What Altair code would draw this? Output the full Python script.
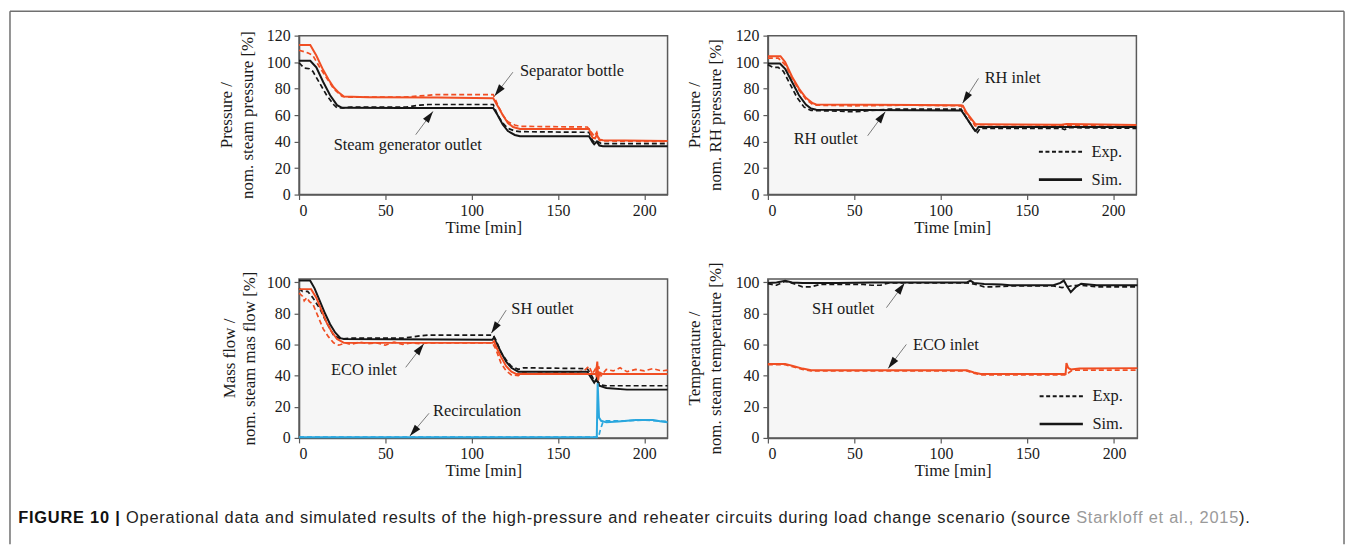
import math
import altair as alt
import pandas as pd

RED = "#f04e23"
BLACK = "#161616"
BLUE = "#2aa7de"
ARROW_GRAY = "#7a7a7a"
SERIF = "Liberation Serif"
SANS = "Liberation Sans"

XMAX = 213.5
H = 160
W_TOP = 371
W_BOT_L = 371
W_BOT_R = 372

X_TICKS = [0, 50, 100, 150, 200]
Y_TICKS_TOP = [0, 20, 40, 60, 80, 100, 120]
Y_TICKS_BOT = [0, 20, 40, 60, 80, 100]

# ---------------- Panel 1: steam pressure ----------------
P1_SEP_SIM = [(0, 113), (6.5, 113), (10, 105), (14, 94), (17, 87), (20, 81), (23, 77), (26, 74),
              (40, 73.5), (80, 73.2), (112.5, 72.8), (115, 67), (118, 60), (121, 54), (124, 51),
              (128, 49.5), (168, 49.5), (170, 43), (171.5, 42.5), (172.5, 45), (174, 41.5),
              (176, 41), (213.5, 40.5)]
P1_SEP_EXP = [(0, 109), (5, 107), (8, 105), (12, 96), (16, 88), (20, 80), (25, 74), (30, 73.5),
              (60, 73.5), (70, 74.5), (80, 75.5), (112.5, 75.5), (115, 68), (118, 60), (121, 55),
              (125, 52.5), (128, 51.5), (167, 51), (170, 46), (171, 44), (172.5, 47), (174, 41),
              (176, 40.5), (213.5, 40)]
P1_SGO_SIM = [(0, 101), (6.5, 101), (10, 96), (14, 85), (18, 75), (22, 67.5), (25, 65.5),
              (60, 65.3), (112.5, 65.3), (115, 60), (118, 53), (121, 48), (125, 45), (128, 44),
              (168, 44), (170, 39.5), (171, 38), (172.5, 40), (174, 37), (176, 36.5), (213.5, 36.5)]
P1_SGO_EXP = [(0, 99.5), (3, 95.5), (6, 95), (8, 93), (12, 84), (16, 75), (20, 68), (22, 65.5),
              (26, 65.5), (30, 66), (62, 66), (70, 67.5), (75, 68), (112.5, 68), (115, 60),
              (118, 54), (121, 50), (125, 48), (128, 47.5), (168, 47), (170, 41), (171.5, 39),
              (173, 40), (175, 38.5), (213.5, 38.5)]
P1_TEXT = [("Separator bottle", 128, 93, "left"), ("Steam generator outlet", 63, 37.5, "center")]
P1_ARROWS = [(123.9, 92.4, 113.3, 74.5), (67.6, 45.2, 77.6, 62.8)]
P1_YTITLE = ["Pressure /", "nom. steam pressure [%]"]

# ---------------- Panel 2: RH pressure ----------------
P2_RHI_SIM = [(0, 104.5), (7.3, 104.5), (10, 100), (14, 89), (18, 80), (22, 73), (26, 69),
              (28, 68), (60, 67.8), (112, 67.5), (113, 67), (115, 62), (118, 57), (120, 53.5),
              (121, 53), (170, 52.8), (173, 53.2), (213.5, 52.5)]
P2_RHI_EXP = [(0, 103), (6, 103), (10, 98), (14, 88), (18, 79), (22, 72), (26, 68), (28, 67.5),
              (50, 67), (80, 67.5), (112, 67), (115, 61), (118, 56), (120, 52), (121, 51.5),
              (150, 51.5), (173, 52), (213.5, 51.5)]
P2_RHO_SIM = [(0, 99), (7, 99), (10, 95), (14, 85), (18, 75), (22, 68), (25, 65), (28, 64),
              (112, 63.5), (114, 60), (117, 54), (119, 50), (120.5, 48), (122, 51), (213.5, 51)]
P2_RHO_EXP = [(0, 98), (3, 96), (6, 96), (9, 93), (13, 83), (17, 73), (21, 66), (25, 63.5),
              (40, 63), (50, 62.5), (60, 63.5), (70, 64.5), (112, 64.5), (114, 60), (117, 54),
              (119, 50), (121, 46), (123, 50), (140, 50), (170, 50), (172, 49), (174, 50.5),
              (213.5, 50)]
P2_TEXT = [("RH inlet", 125.6, 88.2, "left"), ("RH outlet", 33.5, 42.3, "center")]
P2_ARROWS = [(122, 87.7, 112.8, 69), (57.8, 44.4, 68, 62.5)]
P2_YTITLE = ["Pressure /", "nom. RH pressure [%]"]

# ---------------- Panel 3: mass flow ----------------
P3_SH_SIM = [(0, 101), (6.4, 101), (9, 96), (12, 88), (15, 80), (18, 73), (21, 67.5), (24, 64),
             (26, 63.5), (112, 63), (113, 64.5), (114, 62), (117, 55), (120, 49), (123, 45),
             (127, 42.5), (167, 42.5), (169, 39), (171, 35.5), (172.5, 38), (174, 33.5),
             (178, 32), (190, 31), (213.5, 31)]
P3_SH_EXP = [(0, 96), (2, 94), (5, 94), (8, 90), (12, 83), (16, 74), (20, 66), (24, 63.5),
             (30, 64), (60, 64), (70, 65.5), (75, 66), (112.5, 66), (114, 63), (117, 55),
             (120, 50), (123, 46), (127, 44), (130, 45), (167, 44.5), (169, 41), (171, 37),
             (173, 36), (175, 34), (178, 33.5), (213.5, 33.5)]
P3_ECO_SIM = [(0, 95.5), (7, 95.5), (10, 90), (13, 82), (16, 74), (19, 68), (22, 63.5),
              (26, 61), (112, 61), (113, 62), (114, 59), (117, 52), (120, 46), (123, 42.5),
              (126, 41), (172, 41), (172.8, 49), (173.3, 37), (174, 42), (176, 41), (213.5, 41)]
P3_ECO_EXP = [(0, 93), (2, 91), (3, 88), (4.5, 90), (6, 87.5), (8, 86), (11, 78), (14, 70),
              (17, 65), (20, 61), (23, 59.5), (27, 61), (30, 60), (35, 61.5), (40, 60.5),
              (45, 61), (50, 59.5), (55, 61.5), (60, 60), (65, 61), (70, 60.5), (75, 61),
              (112, 61), (114, 57), (117, 48), (120, 43), (123, 40.5), (127, 40), (130, 42),
              (135, 41), (140, 42), (145, 41.5), (150, 42), (160, 42), (165, 43), (168, 46),
              (170, 41), (171.5, 44), (172.5, 38), (173.5, 46), (175, 40), (178, 44), (182, 43),
              (186, 45), (190, 42.5), (195, 44), (200, 43), (205, 44.5), (210, 43), (213.5, 43.5)]
P3_REC_SIM = [(0, 0.5), (172.5, 0.5), (173, 35), (173.8, 13), (175, 11), (178, 10), (185, 10.5),
              (195, 11.5), (205, 11.5), (210, 10.5), (213.5, 10)]
P3_REC_EXP = [(0, 0.5), (173.5, 0.5), (174.5, 5), (176, 10), (178, 11), (190, 11), (200, 11.5),
              (213.5, 10.5)]
P3_TEXT = [("SH outlet", 123, 83, "left"), ("ECO inlet", 37.6, 43.6, "center"),
           ("Recirculation", 77.6, 17.3, "left")]
P3_ARROWS = [(120, 82, 111.4, 67.2), (61.8, 45.3, 72.3, 60.4), (75.3, 15.8, 64.2, 1.2)]
P3_YTITLE = ["Mass flow /", "nom. steam mas flow [%]"]

# ---------------- Panel 4: temperature ----------------
P4_SH_SIM = [(0, 99.5), (5, 99.8), (10, 100.8), (14, 99.8), (20, 99.5), (40, 99.5), (60, 99.8),
             (115, 99.8), (117, 101), (119, 99.5), (125, 98.8), (135, 98.5), (140, 98),
             (165, 98), (169, 99.5), (171, 101), (172.5, 98), (175, 93.5), (178, 97), (181, 99),
             (190, 98), (213.5, 98)]
P4_SH_EXP = [(0, 99), (5, 98), (10, 100.5), (15, 99), (20, 97), (25, 97), (30, 98.5), (55, 98.5),
             (60, 98), (65, 98), (70, 99.5), (115, 99.5), (120, 98.5), (125, 97), (130, 97),
             (140, 97.5), (165, 97.5), (170, 96.5), (175, 97.5), (180, 98), (190, 97), (213.5, 97)]
P4_ECO_SIM = [(0, 47.5), (10, 47.5), (15, 46), (20, 44.5), (25, 43.5), (115, 43.5), (119, 42),
              (123, 41), (172, 41), (172.5, 48), (173.5, 45), (175, 44), (180, 44.5), (213.5, 44.8)]
P4_ECO_EXP = [(0, 47), (10, 47), (15, 45.5), (20, 44), (25, 43), (115, 43), (119, 41.5),
              (123, 40.5), (172, 40.5), (173, 41), (174, 42), (176, 43.5), (180, 43.5), (213.5, 43.5)]
P4_TEXT = [("SH outlet", 25.5, 82.5, "left"), ("ECO inlet", 83.8, 59.8, "left")]
P4_ARROWS = [(68.5, 83.6, 79, 99.4), (80, 60, 69.5, 44.6)]
P4_YTITLE = ["Temperature /", "nom. steam temperature [%]"]

# legend entries
LEG_LABELS = ["Exp.", "Sim."]
P2_LEGEND_V = [32.25, 11.25]
P4_LEGEND_V = [26.8, 8.9]
LEG_T = [157, 182, 187.5]

CAPTION_BOLD = "FIGURE 10 |"
CAPTION_MAIN = (" Operational data and simulated results of the high-pressure and reheater "
                "circuits during load change scenario (source ")
CAPTION_REF = "Starkloff et al., 2015"
CAPTION_END = ")."

HEAD = "M0,0L-0.6,2L0.6,2Z"


def xenc():
    return alt.X("t:Q", scale=alt.Scale(domain=[0, XMAX], nice=False, zero=False),
                 axis=alt.Axis(values=X_TICKS, title="Time [min]", grid=False, tickSize=5,
                               labelPadding=3, titlePadding=1, format="d", labelOverlap=False))


def yenc(ymax, ticks):
    return alt.Y("v:Q", scale=alt.Scale(domain=[0, ymax], nice=False, zero=True),
                 axis=alt.Axis(values=ticks, title="", grid=False, tickSize=5,
                               labelPadding=4, format="d", labelOverlap=False))


one = pd.DataFrame({"a": [0]})


def ytitle_layers(lines, offsets):
    out = []
    for txt, dx in zip(lines, offsets):
        out.append(alt.Chart(one).mark_text(text=txt, angle=270, align="center",
                                            baseline="middle", font=SERIF, fontSize=17,
                                            color="#1a1a1a").encode(
            x=alt.value(dx), y=alt.value(H / 2)))
    return out


def panel(series, texts, arrows, width, ymax, ticks, ytitle, title_dx, legend_v=None,
          extra=None):
    X = xenc()
    Y = yenc(ymax, ticks)
    layers = []
    for pts, color, dashed in series:
        df = pd.DataFrame(pts, columns=["t", "v"])
        kw = dict(color=color, strokeWidth=1.7 if dashed else 2.0)
        if dashed:
            kw["strokeDash"] = [5, 3]
        layers.append(alt.Chart(df).mark_line(**kw).encode(x=X, y=Y))
    pxt = width / XMAX
    pxv = H / ymax
    rows, heads = [], []
    for t1, v1, t2, v2 in arrows:
        ang = math.degrees(math.atan2((t2 - t1) * pxt, (v2 - v1) * pxv)) % 360
        rows.append(dict(t=t1, v=v1, t2=t2, v2=v2))
        heads.append(dict(t=t2, v=v2, ang=ang))
    layers.append(alt.Chart(pd.DataFrame(rows)).mark_rule(color=ARROW_GRAY, strokeWidth=1).encode(
        x=X, y=Y, x2="t2:Q", y2="v2:Q"))
    layers.append(alt.Chart(pd.DataFrame(heads)).mark_point(
        shape=HEAD, filled=True, size=144, color=BLACK, opacity=1, strokeWidth=0).encode(
        x=X, y=Y, angle=alt.Angle("ang:Q", scale=None)))
    for align in ["left", "center"]:
        tdf = pd.DataFrame([dict(label=s, t=t, v=v) for s, t, v, a in texts if a == align])
        if len(tdf):
            layers.append(alt.Chart(tdf).mark_text(align=align, baseline="middle", font=SERIF,
                                                   fontSize=16.5, color="#1a1a1a").encode(
                x=X, y=Y, text="label:N"))
    if legend_v is not None:
        ldf = pd.DataFrame(dict(label=LEG_LABELS, t=[LEG_T[0]] * 2, t2=[LEG_T[1]] * 2,
                                v=legend_v))
        layers.append(alt.Chart(ldf.iloc[[0]]).mark_rule(color=BLACK, strokeWidth=2,
                                                        strokeDash=[4, 2.6]).encode(
            x=X, y=Y, x2="t2:Q"))
        layers.append(alt.Chart(ldf.iloc[[1]]).mark_rule(color=BLACK, strokeWidth=2.6).encode(
            x=X, y=Y, x2="t2:Q"))
        ltd = pd.DataFrame(dict(label=LEG_LABELS, t=[LEG_T[2]] * 2, v=legend_v))
        layers.append(alt.Chart(ltd).mark_text(align="left", baseline="middle", font=SERIF,
                                               fontSize=16.5, color="#1a1a1a").encode(
            x=X, y=Y, text="label:N"))
    layers.extend(ytitle_layers(ytitle, title_dx))
    if extra:
        layers.extend(extra)
    return alt.layer(*layers).properties(width=width, height=H)


# figure frame (panel-1 pixel coordinates, outside its plot area)
FRAME = [
    alt.Chart(one).mark_rule(color="#707070", strokeWidth=1.5).encode(
        x=alt.value(-291), y=alt.value(-24.5), y2=alt.value(512)),
    alt.Chart(one).mark_rule(color="#707070", strokeWidth=1.5).encode(
        x=alt.value(-291), x2=alt.value(1052), y=alt.value(-24.5)),
    alt.Chart(one).mark_rule(color="#707070", strokeWidth=1.5).encode(
        x=alt.value(1052), y=alt.value(-24.5), y2=alt.value(512)),
]

# caption (panel-3 pixel coordinates), laid out character by character
AR = {" ": 278, "(": 333, ")": 333, ",": 278, "-": 333, ".": 278, "O": 778, "S": 667,
      "a": 556, "b": 556, "c": 500, "d": 556, "e": 556, "f": 278, "g": 556, "h": 556,
      "i": 222, "j": 222, "k": 500, "l": 222, "m": 833, "n": 556, "o": 556, "p": 556,
      "q": 556, "r": 333, "s": 500, "t": 278, "u": 556, "v": 500, "w": 722, "x": 500,
      "y": 500, "z": 500}
ARB = {"F": 611, "I": 278, "G": 778, "U": 722, "R": 722, "E": 667, " ": 278, "|": 280}
CAP_FS = 16.5
CAP_START = 17 - 299.75
CAP_END = 1257 - 299.75
CAP_Y = 241

segments = [(CAPTION_BOLD, "bold", ARB), (CAPTION_MAIN, "main", AR),
            (CAPTION_REF, "ref", AR), (CAPTION_END, "main", AR)]
chars = []
for text, kind, table in segments:
    for ch in text:
        chars.append((ch, kind, table.get(ch, 556) * CAP_FS / 1000))
natural = sum(w for _, _, w in chars)
gap = max(0.0, (CAP_END - CAP_START - natural) / (len(chars) - 1))
rows = []
xpos = CAP_START
for ch, kind, w in chars:
    if ch != " ":
        rows.append(dict(ch=ch, kind=kind, px=xpos))
    xpos += w + gap
cdf = pd.DataFrame(rows)
CAPTION = [
    alt.Chart(cdf[cdf.kind == "bold"]).mark_text(align="left", baseline="middle", font=SANS,
                                                 fontSize=CAP_FS, fontWeight="bold",
                                                 color="#111").encode(
        x=alt.X("px:Q", scale=None, axis=None), y=alt.value(CAP_Y), text="ch:N"),
    alt.Chart(cdf[cdf.kind == "main"]).mark_text(align="left", baseline="middle", font=SANS,
                                                 fontSize=CAP_FS, color="#222").encode(
        x=alt.X("px:Q", scale=None, axis=None), y=alt.value(CAP_Y), text="ch:N"),
    alt.Chart(cdf[cdf.kind == "ref"]).mark_text(align="left", baseline="middle", font=SANS,
                                                fontSize=CAP_FS, color="#9a9a9a").encode(
        x=alt.X("px:Q", scale=None, axis=None), y=alt.value(CAP_Y), text="ch:N"),
]

p1 = panel([(P1_SEP_EXP, RED, True), (P1_SGO_EXP, BLACK, True),
            (P1_SEP_SIM, RED, False), (P1_SGO_SIM, BLACK, False)],
           P1_TEXT, P1_ARROWS, W_TOP, 120, Y_TICKS_TOP, P1_YTITLE, [-72, -51], extra=FRAME)
p2 = panel([(P2_RHO_EXP, BLACK, True), (P2_RHI_EXP, RED, True),
            (P2_RHO_SIM, BLACK, False), (P2_RHI_SIM, RED, False)],
           P2_TEXT, P2_ARROWS, W_TOP, 120, Y_TICKS_TOP, P2_YTITLE, [-73, -52],
           legend_v=P2_LEGEND_V)
p3 = panel([(P3_SH_EXP, BLACK, True), (P3_ECO_EXP, RED, True), (P3_REC_EXP, BLUE, True),
            (P3_SH_SIM, BLACK, False), (P3_ECO_SIM, RED, False), (P3_REC_SIM, BLUE, False)],
           P3_TEXT, P3_ARROWS, W_BOT_L, 102, Y_TICKS_BOT, P3_YTITLE, [-69, -49], extra=CAPTION)
p4 = panel([(P4_SH_EXP, BLACK, True), (P4_ECO_EXP, RED, True),
            (P4_SH_SIM, BLACK, False), (P4_ECO_SIM, RED, False)],
           P4_TEXT, P4_ARROWS, W_BOT_R, 102, Y_TICKS_BOT, P4_YTITLE, [-73, -52],
           legend_v=P4_LEGEND_V)

chart = alt.concat(p1, p2, p3, p4, columns=2, bounds="flush",
                   spacing={"row": 85, "column": 101}).properties(
    padding={"left": 0, "top": 0, "right": 0, "bottom": 0}
).configure_view(
    fill="#f6f6f6", stroke="#5a5a5a", strokeWidth=1.5
).configure_axis(
    labelFont=SERIF, titleFont=SERIF, labelFontSize=16, titleFontSize=17,
    labelColor="#1a1a1a", titleColor="#1a1a1a", titleFontWeight="normal",
    domainColor="#5a5a5a", domainWidth=1.5, tickColor="#5a5a5a", tickWidth=1.2,
    labelOverlap=False
)

chart.save("out.html", embed_options={"renderer": "svg", "actions": False})
